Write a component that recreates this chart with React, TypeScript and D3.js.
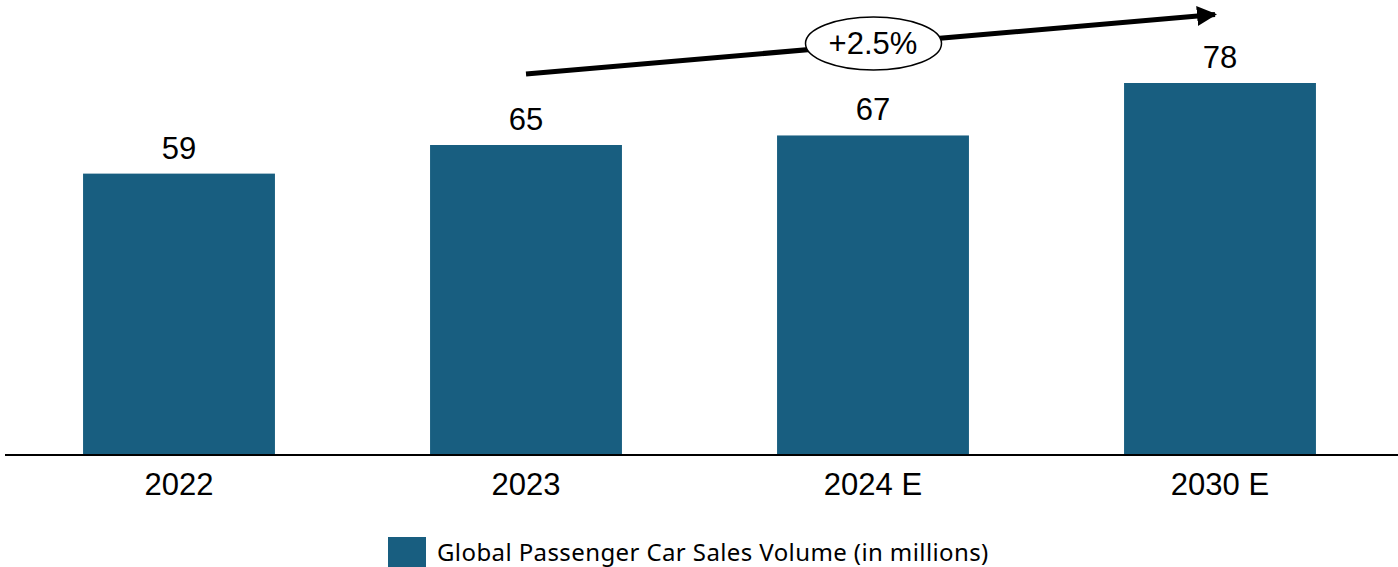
import React from "react";
import * as d3 from "d3";

const categories = ["2022", "2023", "2024 E", "2030 E"];
const values = [59, 65, 67, 78];
const legendLabel = "Global Passenger Car Sales Volume (in millions)";
const cagrLabel = "+2.5%";

const W = 1398;
const H = 567;
const BASE = 455;
const COLOR = "#185E80";

export default function App() {
  const x = d3
    .scaleBand<string>()
    .domain(categories)
    .range([5.5, 1393.5])
    .paddingInner(0.447)
    .paddingOuter(0.2235);
  const y = d3.scaleLinear().domain([0, 78]).range([BASE, 83]);

  const font = "'Liberation Sans', Arial, sans-serif";
  const arrowStart: [number, number] = [526, 74];
  const arrowEnd: [number, number] = [1221, 14];

  return (
    <svg
      width={W}
      height={H}
      style={{ position: "absolute", left: 0, top: 0, background: "#fff" }}
    >
      <defs>
        <marker
          id="ah"
          viewBox="0 0 10 10"
          refX="9"
          refY="5"
          markerWidth="4"
          markerHeight="4"
          markerUnits="strokeWidth"
          orient="auto"
        >
          <path d="M0,0 L10,5 L0,10 z" fill="#000" />
        </marker>
      </defs>
      {categories.map((c, i) => (
        <g key={c}>
          <rect
            x={x(c)}
            y={y(values[i])}
            width={x.bandwidth()}
            height={BASE - y(values[i])}
            fill={COLOR}
          />
          <text
            x={(x(c) as number) + x.bandwidth() / 2}
            y={y(values[i]) - 15}
            textAnchor="middle"
            fontFamily={font}
            fontSize={31}
            fill="#000"
          >
            {values[i]}
          </text>
          <text
            x={(x(c) as number) + x.bandwidth() / 2}
            y={495}
            textAnchor="middle"
            fontFamily={font}
            fontSize={31}
            fill="#000"
          >
            {c}
          </text>
        </g>
      ))}
      <line x1={5} x2={W} y1={BASE} y2={BASE} stroke="#000" strokeWidth={2} />
      <line
        x1={arrowStart[0]}
        y1={arrowStart[1]}
        x2={arrowEnd[0] - 6}
        y2={arrowEnd[1] + 0.5}
        stroke="#000"
        strokeWidth={5}
        markerEnd="url(#ah)"
      />
      <ellipse cx={873.5} cy={43.5} rx={68} ry={26.5} fill="#fff" stroke="#000" strokeWidth={1.5} />
      <text
        x={873}
        y={54}
        textAnchor="middle"
        fontFamily={font}
        fontSize={31}
        fill="#000"
      >
        {cagrLabel}
      </text>
      <rect x={388} y={537} width={38} height={30} fill={COLOR} />
      <text
        x={437}
        y={561}
        fontFamily="'Noto Sans', sans-serif"
        fontSize={24}
        letterSpacing={0.4}
        fill="#000"
      >
        {legendLabel}
      </text>
    </svg>
  );
}
